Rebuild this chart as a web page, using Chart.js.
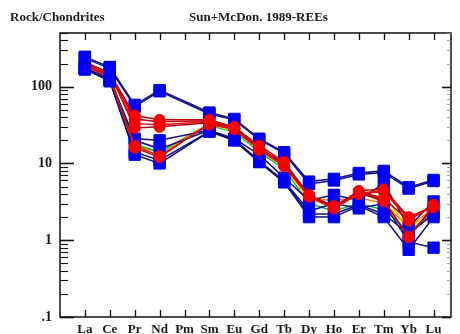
<!DOCTYPE html>
<html>
<head>
<meta charset="utf-8">
<script src="https://cdn.jsdelivr.net/npm/chart.js@4.4.1/dist/chart.umd.min.js"></script>
<style>
  html, body { margin: 0; padding: 0; background: #fff; }
  #wrap { position: relative; width: 460px; height: 334px; overflow: hidden; }
  #wrap canvas { position: absolute; left: 0; top: 0; }
  .ttl { position: absolute; font-family: "Liberation Serif", "DejaVu Serif", serif; font-weight: bold;
         font-size: 13px; line-height: 15px; color: #1a1a1a; white-space: nowrap; }
</style>
</head>
<body>
<div id="wrap">
  <canvas id="c" width="460" height="334"></canvas>
  <div class="ttl" style="left:10px; top:9px;">Rock/Chondrites</div>
  <div class="ttl" style="left:189px; top:9px;">Sun+McDon. 1989-REEs</div>
</div>
<script>
// Rare earth elements, in order of atomic number
const ELEMENTS = ['La','Ce','Pr','Nd','Pm','Sm','Eu','Gd','Tb','Dy','Ho','Er','Tm','Yb','Lu'];

// Log-axis labelled ticks
const Y_TICKS = [0.1, 1, 10, 100];
const Y_TICK_LABELS = ['.1', '1', '10', '100'];

// Chondrite-normalised samples (Pm not analysed)
const red1 = [210, 150, 42, 37, null, 37, 30, 17, 10.5, 3.9, 2.7, 4.4, 4.6, 2.0, 2.8];
const red2 = [200, 145, 38, 35, null, 36, 29, 16, 9.8, 3.8, 2.8, 4.2, 3.2, 1.1, 2.7];
const red3 = [195, 140, 33, 32, null, 35, 28, 15.5, 9.4, 3.7, 2.6, 4.1, 4.4, 1.9, 2.8];
const red4 = [205, 150, 29, 30, null, 34, 29, 16, 10.0, 3.9, 2.7, 4.3, 3.5, 1.8, 2.9];
const red5 = [190, 135, 16, 12, null, 33, 28, 15.5, 9.5, 3.8, 2.7, 4.2, 3.3, 1.1, 2.8];
const red6 = [185, 130, 17, 12.5, null, 32, 28, 15, 9.2, 3.7, 2.6, 4.0, 4.3, 1.9, 2.7];

const blue1 = [244, 180, 58, 90, null, 46, 38, 21, 14.0, 5.8, 6.3, 7.5, 8.0, 4.9, 6.1];
const blue2 = [235, 172, 55, 87, null, 44, 37, 20.5, 13.5, 5.4, 6.0, 7.2, 7.6, 4.7, 5.9];
const blue3 = [175, 125, 21, 20, null, 27, 21, 13, 6.5, 3.3, 3.9, 3.3, 5.5, 1.5, 3.2];
const blue4 = [168, 120, 13, 10, null, 26, 20, 10.4, 5.7, 2.0, 2.0, 2.8, 2.0, 0.75, 2.0];
const blue5 = [172, 128, 20, 15.5, null, 27, 20.5, 10.8, 5.9, 2.4, 3.0, 2.6, 3.0, 0.95, 0.8];
const blue6 = [170, 118, 14, 11, null, 26, 20, 10.5, 5.7, 2.2, 2.2, 2.9, 2.2, 1.2, 2.2];

const yellow1 = [200, 140, 16, 13, null, 32, 27, 15, 9.0, 3.3, 2.9, 3.8, 3.8, 1.4, 2.5];
const green1  = [195, 135, 18, 14, null, 31, 26, 14, 8.5, 3.0, 2.4, 3.0, 2.5, 1.3, 2.3];
const orange1 = [198, 138, 17, 14, null, 33, 28, 15, 9.5, 3.5, 3.3, 3.6, 3.0, 1.5, 2.6];

function toPoints(values) {
  return values.map((v, i) => ({ x: i + 1, y: v })).filter(p => p.y !== null);
}

function redSet(values, lineColor) {
  return {
    data: toPoints(values), order: 0, borderColor: lineColor, borderWidth: 1.5,
    pointStyle: 'circle', pointRadius: 5.5, pointBackgroundColor: '#ff0000',
    pointBorderColor: '#ee0000', pointBorderWidth: 1, spanGaps: true, tension: 0
  };
}
function blueSet(values, lineColor) {
  return {
    data: toPoints(values), order: 1, borderColor: lineColor, borderWidth: 1.5,
    pointStyle: 'rect', pointRadius: 8, pointBackgroundColor: '#0000ff',
    pointBorderColor: '#0000dd', pointBorderWidth: 1, spanGaps: true, tension: 0
  };
}
function plainSet(values, lineColor) {
  return {
    data: toPoints(values), order: 2, borderColor: lineColor, borderWidth: 1.5,
    pointRadius: 0, spanGaps: true, tension: 0
  };
}

// Square markers for La and Ce are painted last, over the circles
const lreeOnTop = {
  id: 'lreeOnTop',
  afterDatasetsDraw(chart) {
    const ctx = chart.ctx;
    chart.data.datasets.forEach((ds, i) => {
      if (ds.pointStyle !== 'rect') return;
      const meta = chart.getDatasetMeta(i);
      meta.data.slice(0, 2).forEach(pt => pt.draw(ctx, chart.chartArea));
    });
  }
};

// Frame with inward tick marks, drawn from the chart scales
const frameTicks = {
  id: 'frameTicks',
  afterDraw(chart) {
    const { ctx, chartArea: a, scales } = chart;
    const xs = scales.x, ys = scales.y;
    ctx.save();
    ctx.strokeStyle = '#111';
    ctx.lineWidth = 1.5;
    ctx.strokeRect(a.left, a.top, a.right - a.left, a.bottom - a.top);
    ctx.lineWidth = 1.3;
    ctx.beginPath();
    ELEMENTS.forEach((e, i) => {
      const px = Math.round(xs.getPixelForValue(i + 1)) + 0.5;
      ctx.moveTo(px, a.bottom); ctx.lineTo(px, a.bottom - 7);
      ctx.moveTo(px, a.top); ctx.lineTo(px, a.top + 7);
    });
    ctx.stroke();
    // log ticks: majors at decades, minors at 2..9
    for (let d = 0.1; d <= 100; d *= 10) {
      for (let m = 1; m <= 9; m++) {
        const v = d * m;
        if (v > ys.max * 1.0001) break;
        const py = Math.round(ys.getPixelForValue(v)) + 0.5;
        const major = m === 1;
        ctx.beginPath();
        ctx.lineWidth = major ? 1.6 : 1.1;
        ctx.moveTo(a.left, py); ctx.lineTo(a.left + (major ? 14 : 8), py);
        ctx.stroke();
        ctx.beginPath();
        ctx.lineWidth = major ? 1.6 : 0.8;
        ctx.strokeStyle = major ? '#111' : '#888';
        ctx.moveTo(a.right, py); ctx.lineTo(a.right - (major ? 9 : 4), py);
        ctx.stroke();
        ctx.strokeStyle = '#111';
      }
    }
    ctx.restore();
  }
};

const xFont = { family: '"Liberation Serif", "DejaVu Serif", serif', weight: 'bold', size: 13 };
const yFont = { family: '"Liberation Serif", "DejaVu Serif", serif', weight: 'bold', size: 14 };

new Chart(document.getElementById('c'), {
  type: 'line',
  data: {
    datasets: [
      redSet(red1, '#d00000'), redSet(red2, '#c00010'), redSet(red3, '#e01010'),
      redSet(red4, '#b00018'), redSet(red5, '#d01010'), redSet(red6, '#c82020'),
      blueSet(blue1, '#101080'), blueSet(blue2, '#141490'), blueSet(blue3, '#101080'),
      blueSet(blue4, '#0c0c78'), blueSet(blue5, '#121288'), blueSet(blue6, '#101080'),
      plainSet(yellow1, '#ffd000'), plainSet(green1, '#20b040'), plainSet(orange1, '#f08000')
    ]
  },
  options: {
    responsive: false,
    devicePixelRatio: 1,
    animation: false,
    layout: { padding: { top: 33, right: 1, left: 0, bottom: 0 } },
    plugins: { legend: { display: false }, tooltip: { enabled: false }, title: { display: false } },
    scales: {
      x: {
        type: 'linear', min: 0, max: 15.7,
        grid: { display: false, drawTicks: false },
        border: { display: false },
        afterBuildTicks: s => { s.ticks = ELEMENTS.map((e, i) => ({ value: i + 1 })); },
        afterFit: s => { s.height = 17; },
        ticks: {
          autoSkip: false, maxRotation: 0, padding: 5, color: '#1a1a1a', font: xFont,
          callback: v => ELEMENTS[Math.round(v) - 1]
        }
      },
      y: {
        type: 'logarithmic', min: 0.1, max: 500,
        grid: { display: false, drawTicks: false },
        border: { display: false },
        afterBuildTicks: s => { s.ticks = Y_TICKS.map(v => ({ value: v, major: true })); },
        afterFit: s => { s.width = 60; },
        ticks: {
          padding: 8, color: '#1a1a1a', font: yFont,
          callback: v => { const i = Y_TICKS.findIndex(t => Math.abs(t - v) < t * 1e-6); return i >= 0 ? Y_TICK_LABELS[i] : ''; }
        }
      }
    }
  },
  plugins: [lreeOnTop, frameTicks]
});
</script>
</body>
</html>
